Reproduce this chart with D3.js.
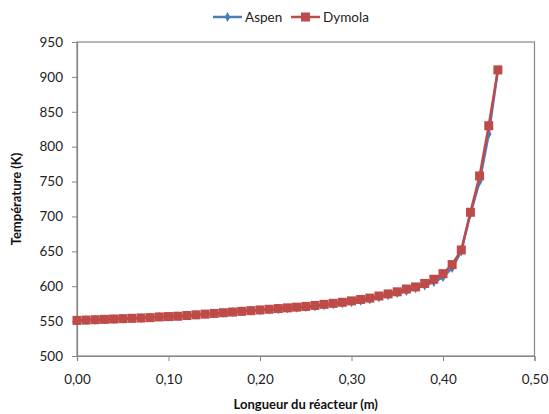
<!DOCTYPE html>
<html><head><meta charset="utf-8">
<script src="https://cdn.jsdelivr.net/npm/d3@7"></script>
<style>body{margin:0;background:#fff}svg{display:block}text{font-family:Lato,"Open Sans",sans-serif}</style>
</head><body><svg id="c" width="549" height="414"></svg>
<script>
const positions = [0.00,0.01,0.02,0.03,0.04,0.05,0.06,0.07,0.08,0.09,0.10,0.11,0.12,0.13,0.14,0.15,0.16,0.17,0.18,0.19,0.20,0.21,0.22,0.23,0.24,0.25,0.26,0.27,0.28,0.29,0.30,0.31,0.32,0.33,0.34,0.35,0.36,0.37,0.38,0.39,0.40,0.41,0.42,0.43,0.44,0.45,0.46];
const dymola = [551,551.5,552,552.5,553,553.5,554,554.5,555,556,556.5,557,558,559,560,561,562,563,564,565,566,567,568,569,570,571,572.5,574,575.5,577,579,581,583,586,589,592,596,599,604,610,618,631,652,706,758,830,910];
const aspen  = [551,551.5,552,552.5,553,553.5,554,554.5,555,556,556.5,557,558,559,560,561,562,563,564,565,565.5,566.5,567,568,569,570,571,572.5,574,575.5,577,579,581,584,587,590,593,597,601,606,613,626,650,704,750,818,910];
const xTicks = [0,0.1,0.2,0.3,0.4,0.5];
const yTicks = [500,550,600,650,700,750,800,850,900,950];
const seriesNames = ["Aspen","Dymola"];
const colors = {Aspen:"#4a7ebb", Dymola:"#be4b48"};

const svg = d3.select("#c");
const m = {l:77, r:534.5, t:42, b:356};
const x = d3.scaleLinear().domain([0,0.5]).range([m.l,m.r]);
const y = d3.scaleLinear().domain([500,950]).range([m.b,m.t]);
const fmt = d => d3.format(".2f")(d).replace(".",",");

// plot border
svg.append("rect").attr("x",m.l).attr("y",m.t).attr("width",m.r-m.l).attr("height",m.b-m.t)
  .attr("fill","none").attr("stroke","#868686").attr("stroke-width",1.2);

const xa = svg.append("g").attr("transform",`translate(0,${m.b})`)
  .call(d3.axisBottom(x).tickValues(xTicks).tickFormat(fmt).tickSize(5).tickPadding(13));
const ya = svg.append("g").attr("transform",`translate(${m.l},0)`)
  .call(d3.axisLeft(y).tickValues(yTicks).tickSize(5).tickPadding(9));
[xa,ya].forEach(g=>{
  g.select(".domain").attr("stroke","#868686").attr("stroke-width",1.2);
  g.selectAll(".tick line").attr("stroke","#868686");
  g.selectAll("text").attr("fill","#222").attr("font-size",13.5);
});

const line = d3.line().x((d,i)=>x(positions[i])).y(d=>y(d));
// Aspen
svg.append("path").datum(aspen).attr("d",line).attr("fill","none").attr("stroke",colors.Aspen).attr("stroke-width",2.5);
svg.append("g").selectAll("path").data(aspen).join("path")
  .attr("d",d3.symbol(d3.symbolDiamond,28)())
  .attr("transform",(d,i)=>`translate(${x(positions[i])},${y(d)})`).attr("fill",colors.Aspen);
// Dymola
svg.append("path").datum(dymola).attr("d",line).attr("fill","none").attr("stroke",colors.Dymola).attr("stroke-width",2.5);
svg.append("g").selectAll("rect").data(dymola).join("rect")
  .attr("x",(d,i)=>x(positions[i])-4.5).attr("y",d=>y(d)-4.5).attr("width",9).attr("height",9)
  .attr("fill",colors.Dymola);

// axis titles
svg.append("text").attr("x",(m.l+m.r)/2).attr("y",409).attr("text-anchor","middle")
  .attr("font-weight","bold").attr("font-size",13).attr("fill","#111").text("Longueur du réacteur (m)");
svg.append("text").attr("transform","translate(21,199) rotate(-90)").attr("text-anchor","middle")
  .attr("font-weight","bold").attr("font-size",13).attr("fill","#111").text("Température (K)");

// legend
const lg = svg.append("g");
const legendItems = [{name:seriesNames[0],x0:213},{name:seriesNames[1],x0:291}];
legendItems.forEach(it=>{
  lg.append("line").attr("x1",it.x0).attr("x2",it.x0+29).attr("y1",17).attr("y2",17)
    .attr("stroke",colors[it.name]).attr("stroke-width",2.5);
  if(it.name==="Aspen"){
    lg.append("path").attr("d",d3.symbol(d3.symbolDiamond,28)()).attr("transform",`translate(${it.x0+14.5},17)`).attr("fill",colors[it.name]);
  } else {
    lg.append("rect").attr("x",it.x0+10).attr("y",12.5).attr("width",9).attr("height",9).attr("fill",colors[it.name]);
  }
  lg.append("text").attr("x",it.x0+32).attr("y",22).attr("font-size",13.5).attr("fill","#222").text(it.name);
});
</script></body></html>
